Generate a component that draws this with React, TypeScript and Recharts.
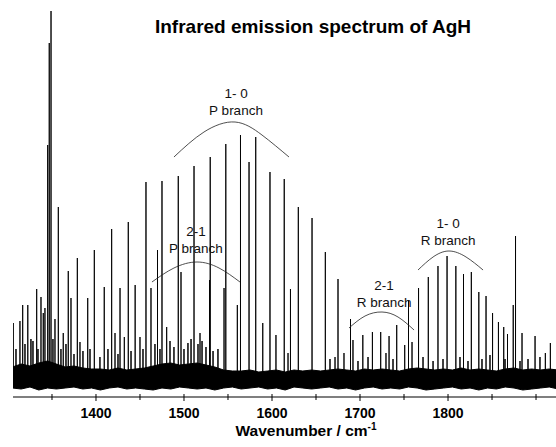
import { Area, ComposedChart, Line, ReferenceDot, XAxis, YAxis } from 'recharts'

const W = 556
const H = 447
const FONT = '"Liberation Sans", Arial, sans-serif'

// emission lines: position (cm-1) and height above the noise baseline (arb. units)
const peakWn = [
  1306, 1313.6, 1316.7, 1322.5, 1332.6, 1337.5, 1340.1, 1342, 1345.1, 1346.9, 1348.9,
  1353.4, 1357.2, 1362.8, 1368.5, 1371.6, 1378.8, 1381.8, 1390.6, 1398.1, 1409.4,
  1417.8, 1421.6, 1427.3, 1432.2, 1436.7, 1444.5, 1450, 1456.8, 1462.5, 1469.9,
  1475, 1480.3, 1493.5, 1496.6, 1511.4, 1518.2, 1529, 1529.8, 1545.5, 1547.5,
  1560.6, 1564.2, 1573.9, 1581.5, 1589.5, 1597.7, 1604.5, 1613.9, 1618.2, 1621,
  1629.9, 1645.5, 1660.6, 1671.6, 1675, 1681.8, 1689.2, 1692, 1703.2, 1714.1,
  1723.5, 1729.5, 1733, 1741.7, 1750.8, 1755.1, 1759.1, 1766.5, 1777.6, 1788.6,
  1798.9, 1808.9, 1817.6, 1826.5, 1835, 1843.2, 1850.6, 1857.3, 1863.3, 1867.6,
  1874.1, 1876.7, 1884.1, 1898.9, 1910.6, 1916.3,
]
const peakHeight = [
  56, 58, 74, 74, 90, 82, 66, 71, 234, 336, 368,
  60, 172, 46, 108, 81, 121, 37, 81, 129, 92,
  150, 46, 91, 42, 157, 94, 42, 197, 91, 129,
  198, 52, 203, 107, 213, 46, 99, 222, 91, 235,
  74, 244, 217, 242, 56, 207, 44, 200, 26, 90,
  172, 161, 127, 22, 100, 26, 60, 39, 44, 47,
  47, 26, 43, 54, 34, 79, 37, 91, 102, 113,
  123, 113, 105, 107, 87, 83, 66, 57, 52, 45,
  74, 143, 46, 43, 26, 36,
]

// weak lines poking out of the noise
const weakWn = [
  1309.1, 1319.3, 1326.1, 1328.4, 1334.1, 1351.1, 1360.2, 1365.9, 1375, 1385.2,
  1393.2, 1404.5, 1413.6, 1425, 1439.8, 1453.4, 1467, 1472.7, 1484.1, 1488.6,
  1500, 1504.5, 1508, 1515.9, 1520.5, 1525, 1533, 1538.6, 1665.9, 1697.7,
  1709.1, 1737.5, 1771.6, 1783, 1794.3, 1813.6, 1822.7, 1838.6, 1847.7, 1864.8,
  1881.8, 1890.9, 1904.5,
]
const weakHeight = [
  30, 35, 40, 38, 30, 40, 30, 35, 25, 28,
  30, 22, 30, 25, 28, 30, 35, 30, 38, 32,
  30, 36, 40, 35, 38, 32, 28, 30, 20, 18,
  22, 20, 22, 18, 20, 22, 18, 20, 24, 20,
  18, 20, 22,
]

// noise band, read every 10 cm-1: top and bottom edge relative to baseline
const noiseWn = [
  1305, 1315, 1325, 1335, 1345, 1355, 1365, 1375, 1385, 1395, 1405, 1415, 1425,
  1435, 1445, 1455, 1465, 1475, 1485, 1495, 1505, 1515, 1525, 1535, 1545, 1555,
  1565, 1575, 1585, 1595, 1605, 1615, 1625, 1635, 1645, 1655, 1665, 1675, 1685,
  1695, 1705, 1715, 1725, 1735, 1745, 1755, 1765, 1775, 1785, 1795, 1805, 1815,
  1825, 1835, 1845, 1855, 1865, 1875, 1885, 1895, 1905, 1915, 1925,
]
const noiseTop = [
  12, 15, 13, 16, 18, 15, 12, 13, 11, 10, 10, 9, 11,
  9, 10, 11, 13, 15, 16, 14, 15, 16, 14, 12, 9, 8,
  8, 9, 7, 8, 9, 7, 9, 8, 9, 8, 9, 10, 9,
  8, 10, 9, 10, 9, 8, 10, 11, 10, 9, 10, 9, 11,
  9, 10, 9, 8, 10, 11, 9, 10, 9, 10, 9,
]
const noiseBottom = [
  -9, -10, -8, -11, -9, -10, -9, -8, -10, -9, -11, -9, -8,
  -10, -9, -10, -11, -9, -10, -8, -9, -10, -9, -11, -9, -8,
  -10, -9, -8, -10, -9, -11, -8, -9, -10, -9, -8, -10, -9,
  -11, -9, -8, -10, -9, -10, -8, -9, -11, -10, -9, -8, -10,
  -9, -11, -9, -10, -8, -9, -11, -10, -9, -8, -10,
]

const tickValues = [1350, 1400, 1450, 1500, 1550, 1600, 1650, 1700, 1750, 1800, 1850, 1900]
const tickLabels = [1400, 1500, 1600, 1700, 1800]

// branch envelopes (hand-drawn arcs in the original)
const arc10PWn = [1488.6, 1522.7, 1558, 1588.6, 1619.3]
const arc10PV = [222, 247, 257, 244, 222]
const arc21PWn = [1463.6, 1488.6, 1514.8, 1539.8, 1563.6]
const arc21PV = [97, 111, 117, 111, 97]
const arc21RWn = [1687.5, 1705.7, 1725, 1743.2, 1761.4]
const arc21RV = [51, 63, 67, 62, 49]
const arc10RWn = [1765.9, 1783, 1801.1, 1820.5, 1839.8]
const arc10RV = [109, 122, 128, 122, 109]

const branchBand = ['1- 0', '2-1', '2-1', '1- 0']
const branchName = ['P branch', 'P branch', 'R branch', 'R branch']
const branchWn = [1559.1, 1513.6, 1727.3, 1800]
const branchV = [264, 126, 72, 134]

const toSticks = (xs: number[], hs: number[]) =>
  xs.flatMap((wn, i) => [
    { wn, v: 0 },
    { wn, v: hs[i] },
    { wn, v: 0 },
  ])
const sticks = toSticks(peakWn, peakHeight)
const weakSticks = toSticks(weakWn, weakHeight)
const noise = noiseWn.map((wn, i) => ({ wn, band: [noiseBottom[i], noiseTop[i]] }))
const arcs = [
  [arc10PWn, arc10PV],
  [arc21PWn, arc21PV],
  [arc21RWn, arc21RV],
  [arc10RWn, arc10RV],
].map(([xs, vs]) => xs.map((wn, i) => ({ wn, v: vs[i] })))

function WnTick({ x, y, payload }: any) {
  const major = tickLabels.includes(payload.value)
  return (
    <g>
      <line x1={x} x2={x} y1={y - 3} y2={y + (major ? 4 : 3)} stroke="#000" strokeWidth={1} />
      {major && (
        <text x={x} y={y + 20.5} textAnchor="middle" fontSize={14} fontWeight={700} fontFamily={FONT} fill="#000">
          {payload.value}
        </text>
      )}
    </g>
  )
}

function BranchLabel({ cx, cy, band, name }: any) {
  return (
    <g>
      <text x={cx} y={cy - 17} textAnchor="middle" fontSize={13.5} fontFamily={FONT} fill="#111">
        {band}
      </text>
      <text x={cx} y={cy} textAnchor="middle" fontSize={13.5} fontFamily={FONT} fill="#111">
        {name}
      </text>
    </g>
  )
}

export default function App() {
  return (
    <div style={{ position: 'absolute', left: 0, top: 0, width: W, height: H, background: '#fff' }}>
      <ComposedChart width={W} height={H} margin={{ top: 5, right: 0, bottom: 0, left: 13 }}>
        <XAxis
          dataKey="wn"
          type="number"
          domain={[1305.7, 1922.7]}
          allowDataOverflow
          ticks={tickValues}
          interval={0}
          tickSize={0}
          tickMargin={0}
          height={50}
          axisLine={{ stroke: '#000', strokeWidth: 1.2 }}
          tick={<WnTick />}
        />
        <YAxis type="number" hide domain={[-18, 374]} allowDataOverflow />
        <Area
          data={noise}
          dataKey="band"
          type="linear"
          fill="#000"
          fillOpacity={1}
          stroke="#000"
          strokeWidth={1}
          isAnimationActive={false}
        />
        <Line
          data={weakSticks}
          dataKey="v"
          type="linear"
          stroke="#000"
          strokeWidth={1}
          dot={false}
          isAnimationActive={false}
        />
        <Line
          data={sticks}
          dataKey="v"
          type="linear"
          stroke="#000"
          strokeWidth={0.9}
          dot={false}
          isAnimationActive={false}
        />
        {arcs.map((pts, i) => (
          <Line
            key={i}
            data={pts}
            dataKey="v"
            type="natural"
            stroke="#222"
            strokeWidth={0.8}
            dot={false}
            isAnimationActive={false}
          />
        ))}
        {branchWn.map((wn, i) => (
          <ReferenceDot
            key={i}
            x={wn}
            y={branchV[i]}
            r={1}
            ifOverflow="visible"
            shape={(p: any) => <BranchLabel cx={p.cx} cy={p.cy} band={branchBand[i]} name={branchName[i]} />}
          />
        ))}
      </ComposedChart>
      <svg width={W} height={H} style={{ position: 'absolute', left: 0, top: 0, pointerEvents: 'none' }}>
        <text x={313} y={33} textAnchor="middle" fontSize={19} fontWeight={700} fontFamily={FONT} fill="#000">
          Infrared emission spectrum of AgH
        </text>
        <text x={306} y={436} textAnchor="middle" fontSize={15.5} fontWeight={700} fontFamily={FONT} fill="#000">
          Wavenumber / cm
          <tspan fontSize={10} dy={-6}>-1</tspan>
        </text>
      </svg>
    </div>
  )
}
